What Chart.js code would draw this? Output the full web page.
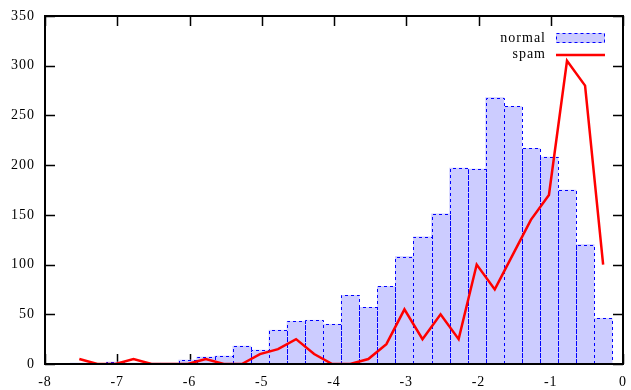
<!DOCTYPE html>
<html>
<head>
<meta charset="utf-8">
<script src="https://cdn.jsdelivr.net/npm/chart.js@4"></script>
<style>
  body { margin: 0; background: #fff; }
</style>
</head>
<body>
<canvas id="myChart" width="631" height="390"></canvas>
<script>
// bin centres (log scale, width 0.25)
const binCenters = [-7.525, -7.275, -7.025, -6.775, -6.525, -6.275, -6.025, -5.775, -5.525, -5.275,
                    -5.025, -4.775, -4.525, -4.275, -4.025, -3.775, -3.525, -3.275, -3.025, -2.775,
                    -2.525, -2.275, -2.025, -1.775, -1.525, -1.275, -1.025, -0.775, -0.525, -0.275];
const normalCounts = [1, 0, 2, 1, 1, 1, 4, 7, 8, 18,
                      14, 34, 43, 44, 40, 69, 57, 78, 108, 128,
                      151, 197, 196, 268, 259, 217, 208, 175, 120, 46];
const spamCounts = [5, 0, 0, 5, 0, 0, 0, 5, 0, 0,
                    10, 15, 25, 10, 0, 0, 5, 20, 55, 25,
                    50, 25, 100, 75, 110, 145, 170, 305, 280, 100];
const xTicks = [-8, -7, -6, -5, -4, -3, -2, -1, 0];
const yTicks = [0, 50, 100, 150, 200, 250, 300, 350];

const FONT = '"Liberation Serif", "DejaVu Serif", serif';
const fillBlue = '#ccccff';
const lineBlue = '#0000ff';
const red = '#ff0000';

function spacing(chart) {
    chart.ctx.letterSpacing = '1px';
}

// gnuplot-like frame: inward ticks, dashed bar outlines, box, legend
const frame = {
    id: 'frame',
    beforeUpdate: spacing,
    beforeDraw: spacing,
    beforeDatasetsDraw(chart) {
        const ctx = chart.ctx;
        const a = chart.chartArea;
        const x = chart.scales.x, y = chart.scales.y;
        const len = 10;
        ctx.save();
        ctx.strokeStyle = '#000';
        ctx.lineWidth = 1.5;
        ctx.beginPath();
        xTicks.forEach(v => {
            const px = Math.round(x.getPixelForValue(v)) + 0.5;
            ctx.moveTo(px, a.bottom); ctx.lineTo(px, a.bottom - len);
            ctx.moveTo(px, a.top); ctx.lineTo(px, a.top + len);
        });
        yTicks.forEach(v => {
            const py = Math.round(y.getPixelForValue(v)) + 0.5;
            ctx.moveTo(a.left, py); ctx.lineTo(a.left + len, py);
            ctx.moveTo(a.right, py); ctx.lineTo(a.right - len, py);
        });
        ctx.stroke();
        ctx.restore();
    },
    afterDatasetDraw(chart, args) {
        if (args.index !== 1) return;
        const ctx = chart.ctx;
        ctx.save();
        ctx.strokeStyle = lineBlue;
        ctx.lineWidth = 1;
        ctx.setLineDash([3, 3]);
        chart.getDatasetMeta(1).data.forEach(bar => {
            const l = Math.round(bar.x - bar.width / 2) + 0.5;
            const r = Math.round(bar.x + bar.width / 2) + 0.5;
            const t = Math.round(bar.y) + 0.5;
            const b = bar.base;
            ctx.beginPath();
            ctx.moveTo(l, b); ctx.lineTo(l, t); ctx.lineTo(r, t); ctx.lineTo(r, b);
            ctx.stroke();
        });
        ctx.restore();
    },
    afterDraw(chart) {
        const ctx = chart.ctx;
        const a = chart.chartArea;
        ctx.save();
        ctx.strokeStyle = '#000';
        ctx.lineWidth = 2;
        ctx.strokeRect(a.left, a.top, a.right - a.left, a.bottom - a.top);

        // legend
        ctx.font = '14px ' + FONT;
        ctx.letterSpacing = '1px';
        ctx.fillStyle = '#000';
        ctx.textAlign = 'right';
        ctx.textBaseline = 'middle';
        ctx.fillText('normal', a.right - 77, a.top + 22);
        ctx.fillText('spam', a.right - 77, a.top + 38);

        ctx.fillStyle = fillBlue;
        ctx.fillRect(a.right - 67, a.top + 17, 49, 10);
        ctx.strokeStyle = lineBlue;
        ctx.lineWidth = 1;
        ctx.setLineDash([3, 3]);
        ctx.strokeRect(a.right - 66.5, a.top + 17.5, 48, 9);
        ctx.setLineDash([]);
        ctx.strokeStyle = red;
        ctx.lineWidth = 2.5;
        ctx.beginPath();
        ctx.moveTo(a.right - 67, a.top + 39);
        ctx.lineTo(a.right - 18, a.top + 39);
        ctx.stroke();
        ctx.restore();
    }
};

const ctx = document.getElementById('myChart').getContext('2d');
const myChart = new Chart(ctx, {
    type: 'bar',
    data: {
        datasets: [{
            type: 'line',
            label: 'spam',
            data: binCenters.map((c, i) => ({ x: c, y: spamCounts[i] })),
            borderColor: red,
            borderWidth: 2.5,
            pointRadius: 0,
            tension: 0,
            fill: false,
            order: 0
        }, {
            type: 'bar',
            label: 'normal',
            data: binCenters.map((c, i) => ({ x: c, y: normalCounts[i] })),
            backgroundColor: fillBlue,
            borderWidth: 0,
            barPercentage: 1,
            categoryPercentage: 1,
            grouped: false,
            order: 1
        }]
    },
    options: {
        responsive: false,
        animation: false,
        layout: { padding: { top: 16, right: 8 } },
        plugins: {
            legend: { display: false },
            tooltip: { enabled: false }
        },
        scales: {
            x: {
                type: 'linear',
                min: -8,
                max: 0,
                offset: false,
                afterFit: s => { s.height = 26; s.paddingLeft = 0; s.paddingRight = 0; },
                grid: { display: false, drawTicks: false },
                border: { display: false },
                ticks: { stepSize: 1, padding: 10, color: '#000', font: { family: FONT, size: 14 } }
            },
            y: {
                min: 0,
                max: 350,
                afterFit: s => { s.width = 45; s.paddingTop = 0; s.paddingBottom = 0; },
                grid: { display: false, drawTicks: false },
                border: { display: false },
                ticks: { stepSize: 50, padding: 10, color: '#000', font: { family: FONT, size: 14 } }
            }
        }
    },
    plugins: [frame]
});
</script>
</body>
</html>
